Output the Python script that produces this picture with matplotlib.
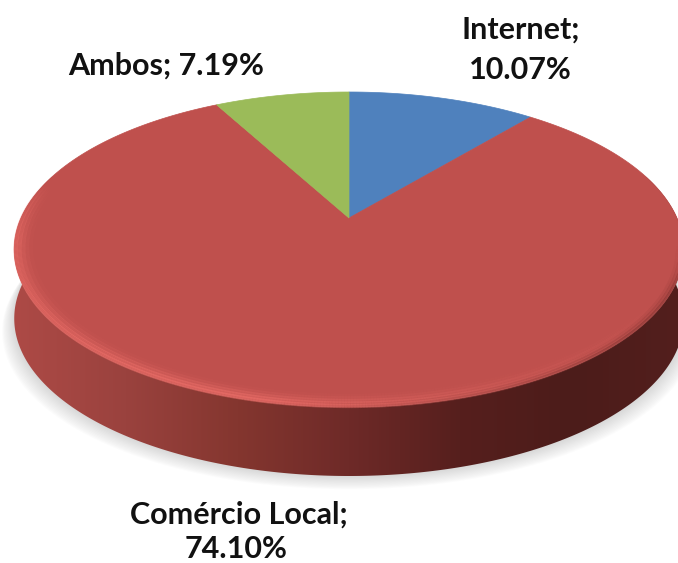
# Pie with a fake 3D disc, drawn in pixel coordinates of the image

import numpy as np
import matplotlib
matplotlib.use("Agg")
import matplotlib.pyplot as plt
from matplotlib.colors import LinearSegmentedColormap, to_rgba
from matplotlib.collections import LineCollection
from matplotlib.patches import Polygon

categories = ["Internet", "Comércio Local", "Ambos"]
values = [10.07, 74.10, 7.19]
colors = ["#4f81bd", "#bf504d", "#9bbb59"]

W, H = 678, 563
cx, cy = 349, 218      # apex of the pie
A, B, k = 328, 151.2, 0.2   # perspective of the disc
depth = 69


def project(theta, r=1.0):
    # theta is clockwise from the top, in radians
    x = r * np.sin(theta)
    y = r * np.cos(theta)
    w = 1 + k * y
    return cx + A * x / w, cy - B * y / w


def fading_arc(ax, deg, weight, r, color, lw):
    # arc whose alpha follows weight, so the ends leave no seam
    ex, ey = project(np.radians(deg), r)
    pts = np.column_stack([ex, ey]).reshape(-1, 1, 2)
    segs = np.concatenate([pts[:-1], pts[1:]], axis=1)
    rgba = np.tile(to_rgba(color), (len(segs), 1))
    rgba[:, 3] = weight[:-1]
    ax.add_collection(LineCollection(segs, colors=rgba, linewidths=lw, zorder=4,
                                     capstyle="butt"))


plt.rcParams["font.family"] = ["Lato", "DejaVu Sans"]
fig = plt.figure(figsize=(W / 100, H / 100), dpi=100)
ax = fig.add_axes([0, 0, 1, 1])
ax.set_xlim(0, W)
ax.set_ylim(H, 0)
ax.axis("off")

t = np.linspace(0, 2 * np.pi, 721)
ox, oy = project(t)

# soft shadow under the disc
for i in range(12):
    grow = 1 + (12 - i) * 0.003
    ax.fill(cx + (ox - cx) * grow, oy + depth + (12 - i) * 1.1,
            color="#999999", alpha=0.03, lw=0, zorder=1)

# side wall with a horizontal gradient
wall_cmap = LinearSegmentedColormap.from_list(
    "wall", ["#ad4a46", "#9a423e", "#84362f", "#6e2a28", "#561f1d", "#4c1c1a", "#531f1d"])
grad = np.linspace(0, 1, 256).reshape(1, -1)
im = ax.imshow(grad, cmap=wall_cmap, extent=[14, 684, H, 0], aspect="auto",
               zorder=2, interpolation="bilinear")
low = (t > np.pi / 2 - 0.3) & (t < 3 * np.pi / 2 + 0.3)
wx, wy = ox[low], oy[low]
wall = np.column_stack([np.r_[wx, wx[::-1]], np.r_[wy + depth, wy[::-1]]])
clip = Polygon(wall, closed=True, transform=ax.transData)
im.set_clip_path(clip)

# top face
total = sum(values)
start = 0.0
for v, c in zip(values, colors):
    sweep = 2 * np.pi * v / total
    a = np.linspace(start, start + sweep, 300)
    px, py = project(a)
    ax.fill(np.r_[cx, px], np.r_[cy, py], color=c, lw=0.5, zorder=3)
    start += sweep

# soft bevel on the front edge, bright on the left and fading to the right
deg = np.linspace(115, 284, 400)
glow = np.clip((deg - 115) / 80, 0, 1) * np.clip((284 - deg) / 22, 0, 1)
for r, peak in [(0.996, 0.55), (0.985, 0.45), (0.974, 0.28), (0.963, 0.14), (0.952, 0.06)]:
    fading_arc(ax, deg, peak * glow, r, "#f0726c", 3)

# blurred dark line where the face meets the wall on the right
deg = np.linspace(100, 190, 300)
fade = np.clip((190 - deg) / 60, 0, 1) * np.clip((deg - 100) / 15, 0, 1)
for r, peak in [(0.998, 0.30), (0.99, 0.15), (0.982, 0.07)]:
    fading_arc(ax, deg, peak * fade, r, "#5a2220", 2.5)

# labels
style = dict(fontsize=22, fontweight="bold", color="#111111",
             ha="center", va="center", zorder=5)
ax.text(521, 30, "Internet;", **style)
ax.text(520, 70, "10.07%", **style)
ax.text(166, 66, "Ambos; 7.19%", **style)
ax.text(239, 515, "Comércio Local;", **style)
ax.text(236, 549, "74.10%", **style)

fig.savefig("out.png", dpi=100)
